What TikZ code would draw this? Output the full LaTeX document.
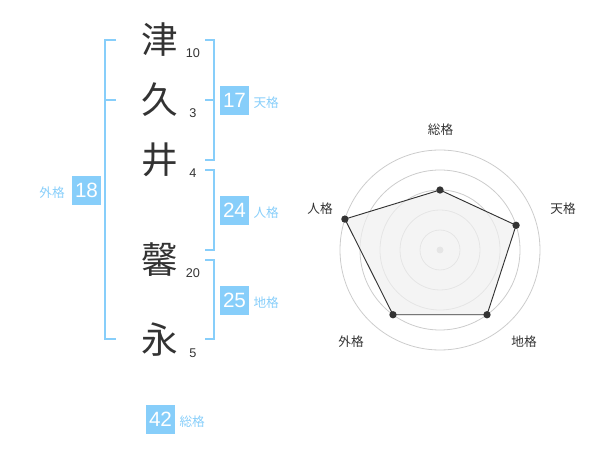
\documentclass[tikz,border=0pt]{standalone}
\usepackage{fontspec}
\setmainfont{Liberation Sans}
\newfontfamily\jp{Noto Sans CJK JP}
\definecolor{kakublue}{HTML}{87CEFA}
\definecolor{tinta}{HTML}{333333}
\definecolor{rejilla}{HTML}{CCCCCC}
\definecolor{relleno}{HTML}{F0F0F0}

\tikzset{
	kanji/.style={text=tinta, font=\jp\fontsize{27.5}{28}\selectfont, inner sep=0pt},
	trazos/.style={text=tinta, font=\fontsize{9.5}{10}\selectfont, inner sep=0pt},
	caja/.style={fill=kakublue, text=white, font=\fontsize{15.5}{16}\selectfont, minimum size=21.75pt, inner sep=0pt},
	etiqueta/.style={text=kakublue, font=\jp\fontsize{9.5}{10}\selectfont, inner sep=0pt},
	corchete/.style={draw=kakublue, line width=1.5pt},
	eje/.style={text=tinta, font=\jp\fontsize{9.5}{10}\selectfont, inner sep=0pt},
	punto/.style={circle, fill=tinta, inner sep=0pt, minimum size=5.5pt}
}

\begin{document}
\begin{tikzpicture}[x=0.75pt, y=-0.75pt]
		\useasboundingbox (0,0) rectangle (600,470);
		
		% Nombre y trazos
		\node[kanji] (k1) at (160,40) {津};
		\node[kanji] (k2) at (160,100) {久};
		\node[kanji] (k3) at (160,160) {井};
		\node[kanji] (k4) at (160,260) {馨};
		\node[kanji] (k5) at (160,340) {永};
		\node[trazos] (n1) at (193,53) {10};
		\node[trazos] (n2) at (193,113) {3};
		\node[trazos] (n3) at (193,173) {4};
		\node[trazos] (n4) at (193,273) {20};
		\node[trazos] (n5) at (193,353) {5};
		
		% Corchetes
		\draw[corchete] (116,40) -- (105,40) -- (105,339) -- (116,339);
		\draw[corchete] (105,100) -- (116,100);
		\draw[corchete] (205,40) -- (214,40) -- (214,160) -- (205,160);
		\draw[corchete] (205,100) -- (214,100);
		\draw[corchete] (205,170) -- (214,170) -- (214,250) -- (205,250);
		\draw[corchete] (205,260) -- (214,260) -- (214,339) -- (205,339);
		
		% Cajas de los cinco kaku
		\node[caja] (ten) at (234.5,100.5) {17};
		\node[etiqueta, anchor=base west, xshift=3pt] (tenl) at (ten.base east) {天格};
		\node[caja] (jin) at (234.5,210.5) {24};
		\node[etiqueta, anchor=base west, xshift=3pt] (jinl) at (jin.base east) {人格};
		\node[caja] (chi) at (234.5,300.5) {25};
		\node[etiqueta, anchor=base west, xshift=3pt] (chil) at (chi.base east) {地格};
		\node[caja] (gai) at (86.5,190.5) {18};
		\node[etiqueta, anchor=base east, xshift=-5pt] (gail) at (gai.base west) {外格};
		\node[caja] (sou) at (160.5,419) {42};
		\node[etiqueta, anchor=base west, xshift=3pt] (soul) at (sou.base east) {総格};
		
		% Radar
		\coordinate (c) at (440,250);
		\foreach \r in {20,40,60,80,100} {
			\draw[rejilla, line width=0.6pt] (c) circle[radius=\r];
		}
		\fill[rejilla] (c) circle[radius=3.5];
		\foreach \a/\v/\n in {-90/60/p1, -18/80/p2, 54/80/p3, 126/80/p4, 198/100/p5} {
			\coordinate (\n) at ([shift={(\a:\v)}]c);
		}
		\filldraw[fill=relleno, fill opacity=0.7, draw=tinta, line width=0.7pt] (p1) -- (p2) -- (p3) -- (p4) -- (p5) -- cycle;
		\foreach \n in {p1,p2,p3,p4,p5} {
			\node[punto] at (\n) {};
		}
		\node[eje] (l1) at (440.5,130) {総格};
		\node[eje] (l2) at (563,209) {天格};
		\node[eje] (l3) at (524,342) {地格};
		\node[eje] (l4) at (351,342) {外格};
		\node[eje] (l5) at (320,209) {人格};
	\end{tikzpicture}
\end{document}
